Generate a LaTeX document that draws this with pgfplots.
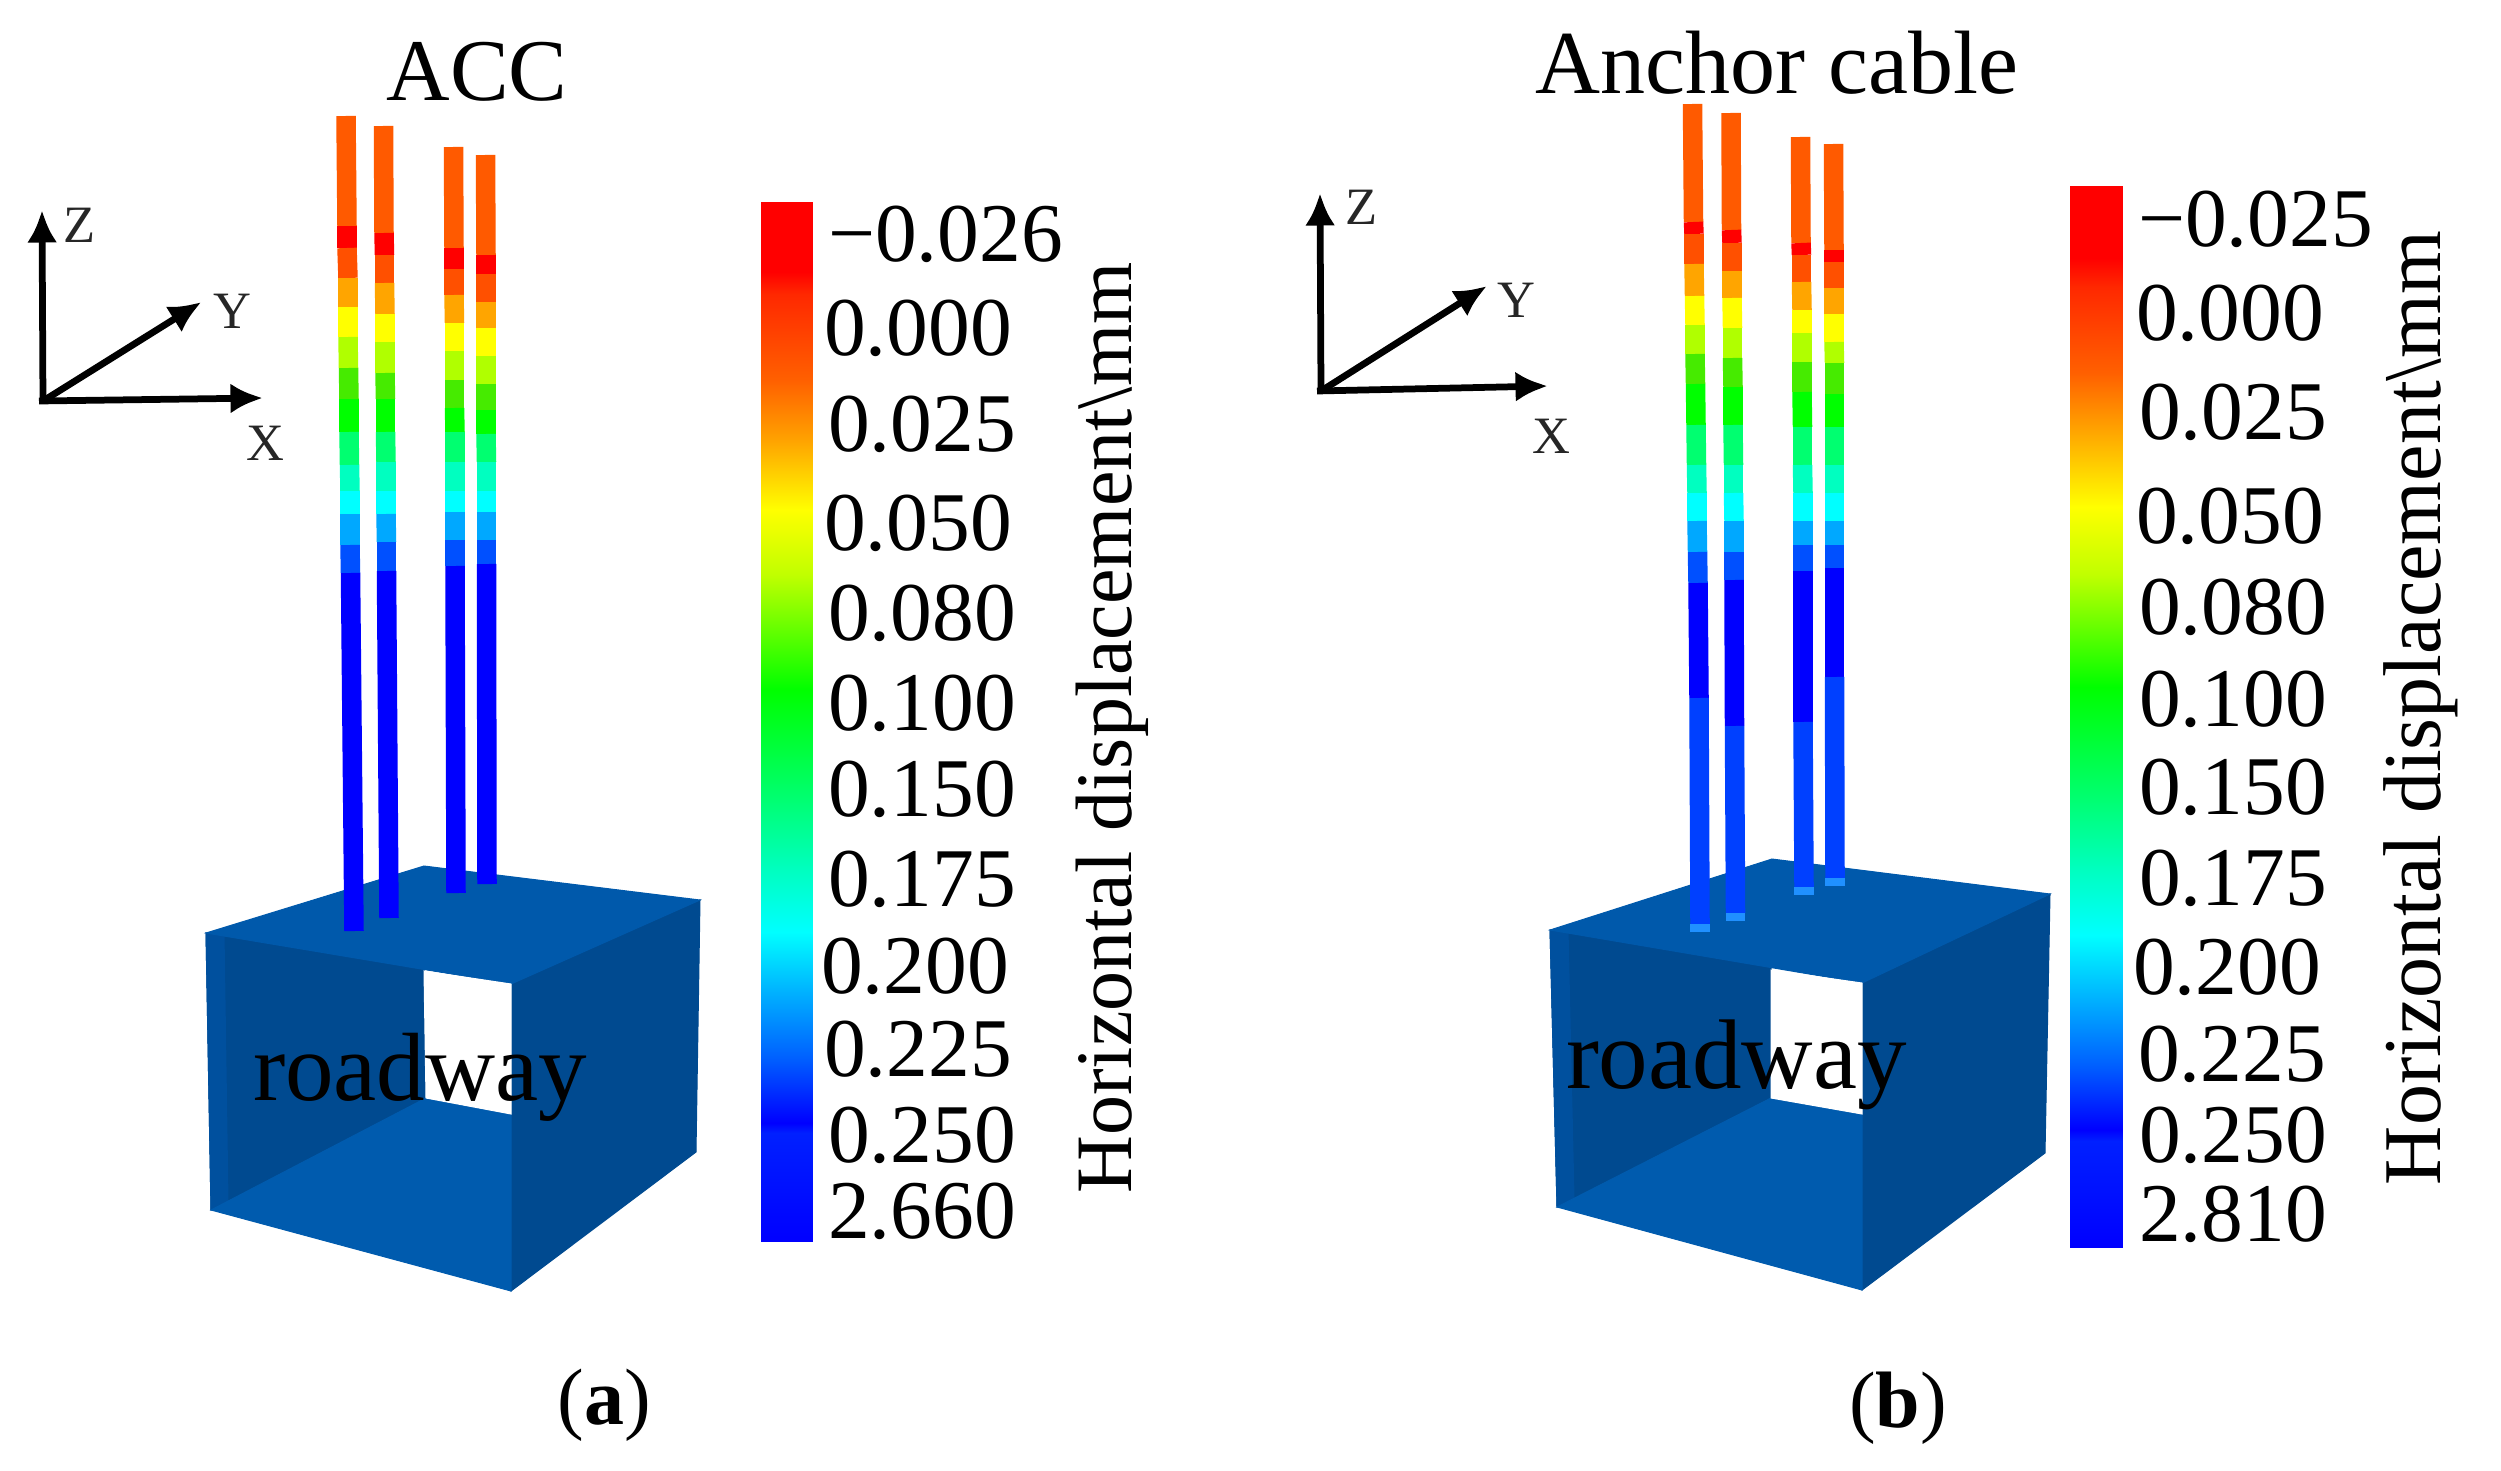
\documentclass[border=0pt]{standalone}
\usepackage{fontspec}
\setmainfont{Liberation Serif}
\usepackage{pgfplots}
\pgfplotsset{compat=1.18}
\usetikzlibrary{arrows.meta}

% discrete colours of the cable bands, index = meta value
\pgfplotsset{colormap={bands}{
  rgb255=(255,90,0) rgb255=(255,0,0) rgb255=(255,80,0) rgb255=(255,165,0)
  rgb255=(255,255,0) rgb255=(176,255,0) rgb255=(70,235,0) rgb255=(0,255,0)
  rgb255=(0,255,112) rgb255=(0,255,192) rgb255=(0,255,255) rgb255=(0,168,255)
  rgb255=(0,80,255) rgb255=(0,0,255) rgb255=(0,64,255) rgb255=(32,144,255)}}
% legend bar
\pgfplotsset{colormap={bar}{
  rgb255=(255,0,0) rgb255=(255,0,0) rgb255=(255,40,0) rgb255=(255,96,0)
  rgb255=(255,160,0) rgb255=(255,255,0) rgb255=(192,255,0) rgb255=(0,255,0)
  rgb255=(0,255,112) rgb255=(0,255,192) rgb255=(0,255,255) rgb255=(0,176,255)
  rgb255=(0,96,255) rgb255=(0,0,255) rgb255=(0,32,255) rgb255=(0,0,255)}}

\definecolor{boxtop}{HTML}{0059AB}
\definecolor{boxdark}{HTML}{004A90}
\definecolor{boxfloor}{HTML}{005BAE}
\definecolor{boxedge}{HTML}{00509E}

\pgfplotsset{
  cable/.style={mesh, shader=flat corner, point meta=explicit, colormap name=bands,
    line width=3.9pt, forget plot},
  legbar/.style={surf, shader=interp, mesh/rows=16, mesh/cols=2, point meta=explicit,
    colormap name=bar, forget plot},
  face/.style={fill=#1, draw=#1, line width=0.2pt, forget plot},
  arrowline/.style={black, line width=1.35pt, -{Latex[length=6.5pt,width=6pt]}, forget plot},
}

\newcommand{\tl}[3]{\node[anchor=base west, inner sep=0pt, font=\fontsize{16.7}{18}\selectfont] at (axis cs:#1,#2) {#3};}
\newcommand{\sm}[3]{\node[inner sep=0pt, font=\fontsize{10.5}{12}\selectfont, text=black!85] at (axis cs:#1,#2) {#3};}

\begin{document}
\begin{tikzpicture}
\begin{axis}[
    scale only axis,
    width=500.2pt, height=294.2pt,
    xmin=0, xmax=2501, ymin=0, ymax=1471,
    y dir=reverse,
    hide axis,
    clip=false,
    point meta min=0, point meta max=15,
]
% hide axis leaves the rectangle out of the page size
\path (rel axis cs:0,0) (rel axis cs:1,1);
% ---------- panel a: box
\addplot[face=boxdark] coordinates {(511,984) (700,900) (696,1152) (511,1291)} -- cycle;
\addplot[face=boxdark] coordinates {(206,933) (424,955) (426,1098) (211,1210)} -- cycle;
\addplot[face=boxedge] coordinates {(206,933) (224,933) (228,1201) (211,1210)} -- cycle;
\addplot[face=boxtop] coordinates {(206,933) (424,866) (700,900) (511,984)} -- cycle;
\addplot[face=boxfloor] coordinates {(211,1210) (426,1098) (511,1114) (511,1291)} -- cycle;
\addplot[face=white] coordinates {(424,971) (511,984) (511,1114) (426,1098)} -- cycle;
% panel a: cables
\addplot[cable] table[row sep=\\, meta=c] {x y c\\
346 116 0\\ 347 226 1\\ 347 248 2\\ 348 278 3\\ 348 307 4\\ 348 337 5\\ 348.5 368 6\\ 349 399 7\\
349 432 8\\ 349.5 465 9\\ 350 491 10\\ 350 514 11\\ 350 545 12\\ 350.5 573 13\\ 354 931 13\\};
\addplot[cable] table[row sep=\\, meta=c] {x y c\\
383.5 126 0\\ 384 233 1\\ 384.5 255 2\\ 384.5 283 3\\ 385 314 4\\ 385 342 5\\ 385 373 6\\ 385.5 399 7\\
385.5 432 8\\ 386 462 9\\ 386 491 10\\ 386 514 11\\ 386.5 542 12\\ 386.5 571 13\\ 389 918 13\\};
\addplot[cable] table[row sep=\\, meta=c] {x y c\\
453.5 147 0\\ 454 248 1\\ 454 269 2\\ 454 295 3\\ 454.5 323 4\\ 454.5 351 5\\ 454.5 380 6\\ 454.5 408 7\\
455 432 8\\ 455 462 9\\ 455 491 10\\ 455 512 11\\ 455 540 12\\ 455 566 13\\ 456 893 13\\};
\addplot[cable] table[row sep=\\, meta=c] {x y c\\
485.5 155 0\\ 486 255 1\\ 486 274 2\\ 486 302 3\\ 486 328 4\\ 486 356 5\\ 486 384 6\\ 486 410 7\\
486 434 8\\ 486.5 462 9\\ 486.5 491 10\\ 486.5 512 11\\ 486.5 540 12\\ 486.5 564 13\\ 487 884 13\\};
% panel a: legend bar
\addplot[legbar] table[row sep=\\, meta=m] {x y m\\
761 202 0\\ 812 202 0\\ 761 272 1\\ 812 272 1\\ 761 294 2\\ 812 294 2\\ 761 380 3\\ 812 380 3\\
761 438 4\\ 812 438 4\\ 761 510 5\\ 812 510 5\\ 761 575 6\\ 812 575 6\\ 761 690 7\\ 812 690 7\\
761 798 8\\ 812 798 8\\ 761 870 9\\ 812 870 9\\ 761 932 10\\ 812 932 10\\ 761 993 11\\ 812 993 11\\
761 1058 12\\ 812 1058 12\\ 761 1123 13\\ 812 1123 13\\ 761 1133 14\\ 812 1133 14\\ 761 1241 15\\ 812 1241 15\\};
% panel a: triad
\addplot[arrowline] coordinates {(43,403) (42,210)};
\addplot[arrowline] coordinates {(39,401) (263,398)};
\addplot[arrowline] coordinates {(43,401) (201.5,302)};
\sm{80}{225}{Z}
\sm{232}{311}{Y}
\sm{265}{443}{X}
% panel a: text
\node[anchor=base, inner sep=0pt, font=\fontsize{17.6}{20}\selectfont] at (axis cs:477,101) {ACC};
\node[anchor=base west, inner sep=0pt, font=\fontsize{19.4}{22}\selectfont] at (axis cs:252,1100) {roadway};
\tl{827}{262}{−0.026}
\tl{823}{355}{0.000}
\tl{827}{451}{0.025}
\tl{823}{550}{0.050}
\tl{827}{640}{0.080}
\tl{827}{730}{0.100}
\tl{827}{816}{0.150}
\tl{827}{906}{0.175}
\tl{820}{993}{0.200}
\tl{823}{1076}{0.225}
\tl{827}{1162}{0.250}
\tl{827}{1238}{2.660}
\node[anchor=base, rotate=90, inner sep=0pt, font=\fontsize{16}{18}\selectfont] at (axis cs:1131,728) {Horizontal displacement\textbackslash mm};
\node[anchor=base, inner sep=0pt, font=\fontsize{16}{18}\selectfont] at (axis cs:604,1424) {(\textbf{a})};

% ---------- panel b: box
\addplot[face=boxdark] coordinates {(1862,983) (2050,894) (2045,1153) (1862,1290)} -- cycle;
\addplot[face=boxdark] coordinates {(1550,930) (1771,955) (1771,1098) (1557,1207)} -- cycle;
\addplot[face=boxedge] coordinates {(1550,930) (1568,930) (1574,1198) (1557,1207)} -- cycle;
\addplot[face=boxtop] coordinates {(1550,930) (1772,859) (2050,894) (1862,983)} -- cycle;
\addplot[face=boxfloor] coordinates {(1557,1207) (1771,1098) (1862,1114) (1862,1290)} -- cycle;
\addplot[face=white] coordinates {(1771,970) (1862,983) (1862,1114) (1771,1098)} -- cycle;
% panel b: cables
\addplot[cable] table[row sep=\\, meta=c] {x y c\\
1692.5 104 0\\ 1693.5 222 1\\ 1694 234 2\\ 1694 264 3\\ 1694.5 296 4\\ 1695 325 5\\ 1695 354 6\\ 1695.5 384 7\\
1696 425 8\\ 1696.5 465 9\\ 1697 493 10\\ 1697 521 11\\ 1697.5 552 12\\ 1698 583 13\\ 1699 698 14\\ 1700 924 15\\ 1700 932 15\\};
\addplot[cable] table[row sep=\\, meta=c] {x y c\\
1731 113 0\\ 1731.5 230 1\\ 1732 243 2\\ 1732 271 3\\ 1732 298 4\\ 1732.5 328 5\\ 1732.5 358 6\\ 1733 387 7\\
1733 425 8\\ 1733.5 465 9\\ 1733.5 493 10\\ 1734 521 11\\ 1734 552 12\\ 1734 580 13\\ 1734.5 726 14\\ 1735.5 913 15\\ 1735.5 921 15\\};
\addplot[cable] table[row sep=\\, meta=c] {x y c\\
1800.5 137 0\\ 1801 243 1\\ 1801.5 255 2\\ 1801.5 282 3\\ 1802 310 4\\ 1802 333 5\\ 1802 362 6\\ 1802 392 7\\
1802.5 427 8\\ 1802.5 465 9\\ 1803 493 10\\ 1803 521 11\\ 1803 545 12\\ 1803 571 13\\ 1803 722 14\\ 1804 887 15\\ 1804 895 15\\};
\addplot[cable] table[row sep=\\, meta=c] {x y c\\
1833.5 144 0\\ 1834 250 1\\ 1834 262 2\\ 1834 288 3\\ 1834 314 4\\ 1834 342 5\\ 1834.5 363 6\\ 1834.5 394 7\\
1834.5 427 8\\ 1834.5 465 9\\ 1834.5 493 10\\ 1834.5 521 11\\ 1834.5 545 12\\ 1834.5 568 13\\ 1834.5 677 14\\ 1835 878 15\\ 1835 886 15\\};
% panel b: legend bar
\addplot[legbar] table[row sep=\\, meta=m] {x y m\\
2070 186 0\\ 2122 186 0\\ 2070 258 1\\ 2122 258 1\\ 2070 287 2\\ 2122 287 2\\ 2070 373 3\\ 2122 373 3\\
2070 427 4\\ 2122 427 4\\ 2070 507 5\\ 2122 507 5\\ 2070 575 6\\ 2122 575 6\\ 2070 687 7\\ 2122 687 7\\
2070 798 8\\ 2122 798 8\\ 2070 870 9\\ 2122 870 9\\ 2070 935 10\\ 2122 935 10\\ 2070 1000 11\\ 2122 1000 11\\
2070 1065 12\\ 2122 1065 12\\ 2070 1130 13\\ 2122 1130 13\\ 2070 1141 14\\ 2122 1141 14\\ 2070 1247 15\\ 2122 1247 15\\};
% panel b: triad
\addplot[arrowline] coordinates {(1321,393) (1320,193)};
\addplot[arrowline] coordinates {(1317,391) (1548,386)};
\addplot[arrowline] coordinates {(1321,391) (1487,286)};
\sm{1362}{207}{Z}
\sm{1516}{300}{Y}
\sm{1551}{436}{X}
% panel b: text
\node[anchor=base, inner sep=0pt, font=\fontsize{18}{20}\selectfont] at (axis cs:1777,94) {Anchor cable};
\node[anchor=base west, inner sep=0pt, font=\fontsize{19.8}{22}\selectfont] at (axis cs:1565,1088) {roadway};
\tl{2137}{247}{−0.025}
\tl{2135}{341}{0.000}
\tl{2138}{440}{0.025}
\tl{2135}{543}{0.050}
\tl{2138}{634}{0.080}
\tl{2138}{726}{0.100}
\tl{2138}{814}{0.150}
\tl{2138}{905}{0.175}
\tl{2132}{994}{0.200}
\tl{2137}{1081}{0.225}
\tl{2138}{1162}{0.250}
\tl{2138}{1241}{2.810}
\node[anchor=base, rotate=90, inner sep=0pt, font=\fontsize{16.4}{18}\selectfont] at (axis cs:2440,708) {Horizontal displacement\textbackslash mm};
\node[anchor=base, inner sep=0pt, font=\fontsize{16}{18}\selectfont] at (axis cs:1898,1427) {(\textbf{b})};
\end{axis}
\end{tikzpicture}
\end{document}
